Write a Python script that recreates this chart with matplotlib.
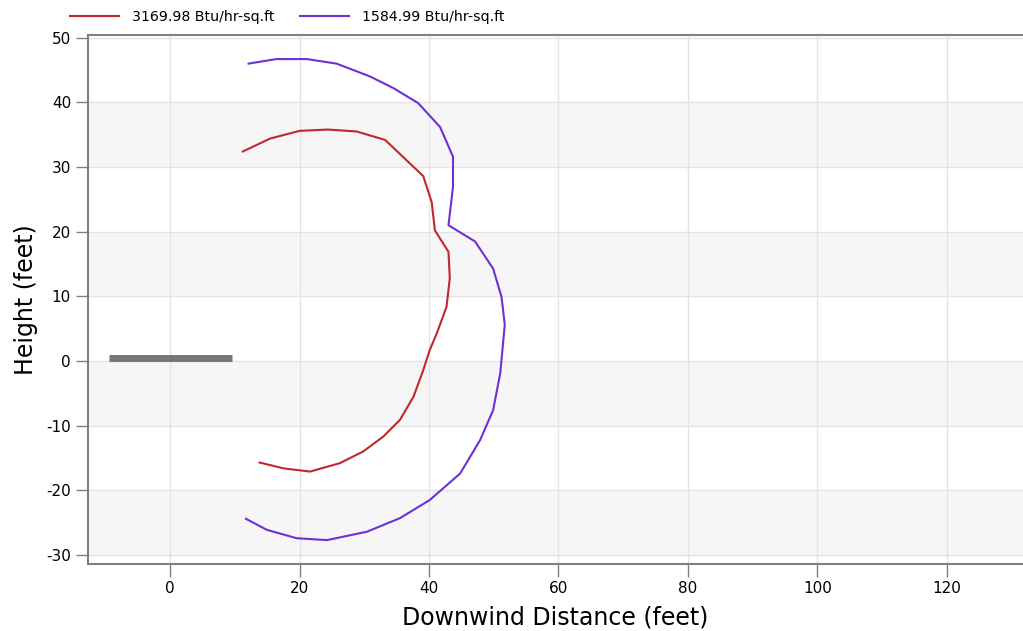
import numpy as np
import matplotlib
matplotlib.use('Agg')
import matplotlib.pyplot as plt

plt.rcParams['axes.unicode_minus'] = False

# flux contours (downwind distance, height) in feet
red_label = '3169.98 Btu/hr-sq.ft'
red_x = [11.2, 15.4, 20.0, 24.4, 28.8, 33.2, 39.1, 40.4, 40.9, 43.0, 43.2,
         42.7, 41.2, 40.1, 39.1, 37.6, 35.5, 32.9, 29.8, 26.2, 21.6, 17.5, 13.8]
red_y = [32.4, 34.4, 35.6, 35.8, 35.5, 34.2, 28.6, 24.6, 20.2, 16.9, 12.8,
         8.4, 4.3, 1.7, -1.4, -5.5, -9.1, -11.7, -14.0, -15.8, -17.1, -16.6, -15.7]

purple_label = '1584.99 Btu/hr-sq.ft'
purple_x = [12.1, 16.4, 21.1, 25.7, 30.9, 34.5, 38.3, 41.7, 43.7, 43.7, 43.0, 47.1,
            49.9, 51.2, 51.7, 51.0, 49.9, 47.9, 44.8, 40.1, 35.5, 30.4, 24.2, 19.5,
            14.9, 11.7]
purple_y = [46.0, 46.7, 46.7, 46.0, 44.0, 42.2, 39.9, 36.2, 31.6, 27.0, 21.0, 18.5,
            14.3, 9.9, 5.6, -1.9, -7.6, -12.2, -17.4, -21.5, -24.3, -26.4, -27.7, -27.4,
            -26.1, -24.4]

# source (pool) drawn as a thick grey bar
source_x = [-9.5, 9.5]
source_y = [0.5, 0.5]

xticks = [0, 20, 40, 60, 80, 100, 120]
yticks = [-30, -20, -10, 0, 10, 20, 30, 40, 50]

fig = plt.figure(figsize=(10.23, 6.31), dpi=100)
ax = fig.add_axes([0.0857, 0.1057, 1 - 0.0857, 0.8396])

# alternating light bands between gridlines
for lo, hi in zip(yticks[:-1], yticks[1:]):
    if (lo // 10) % 2 == 1:
        ax.axhspan(lo, hi, color='#f6f6f6', lw=0, zorder=0)

ax.grid(True, color='#e4e4e4', lw=1, zorder=1)
ax.set_axisbelow(True)

ax.plot(source_x, source_y, color='#777777', lw=5, solid_capstyle='butt', zorder=3)
ax.plot(red_x, red_y, color='#c0282d', lw=1.5, label=red_label, zorder=4)
ax.plot(purple_x, purple_y, color='#6f2fd3', lw=1.5, label=purple_label, zorder=4)

ax.set_xlim(-12.77, 131.8)
ax.set_ylim(-31.44, 50.5)
ax.set_xticks(xticks)
ax.set_yticks(yticks)
ax.tick_params(length=9, width=1, color='#808080', labelsize=11, pad=3)

for s in ['top', 'right']:
    ax.spines[s].set_visible(False)
for s in ['left', 'bottom']:
    ax.spines[s].set_color('#808080')
    ax.spines[s].set_linewidth(1.5)
ax.axhline(50.5, color='#808080', lw=1.5, clip_on=False, zorder=5)

ax.set_xlabel('Downwind Distance (feet)', fontsize=17, labelpad=7)
ax.set_ylabel('Height (feet)', fontsize=17, labelpad=6)

fig.legend(loc='center left', bbox_to_anchor=(0.068, 0.973), ncol=2, frameon=False,
           fontsize=10.2, handlelength=3.5, handletextpad=0.9, columnspacing=1.8,
           borderaxespad=0, borderpad=0)

fig.savefig('out.png', dpi=100)
plt.close()
